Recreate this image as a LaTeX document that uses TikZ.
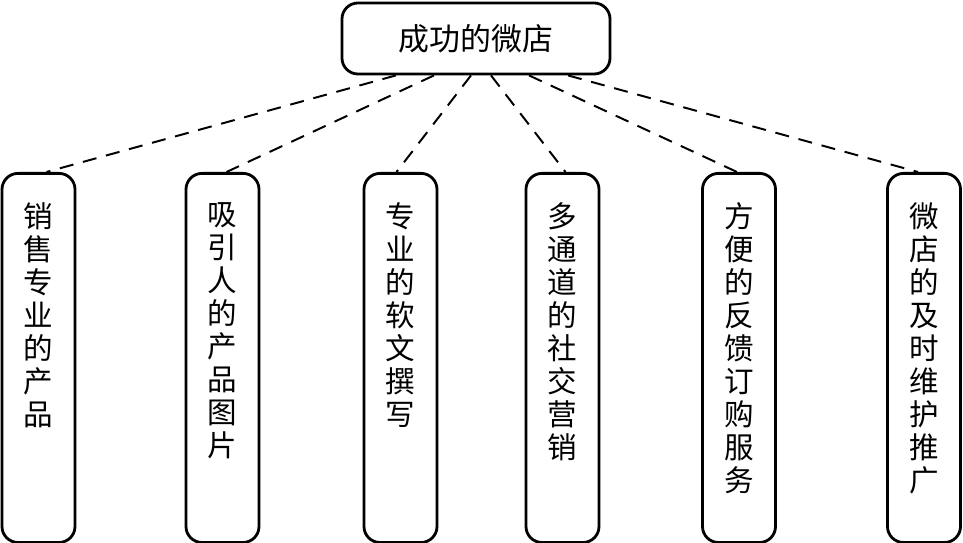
\documentclass[tikz,border=0pt]{standalone}
\usepackage{fontspec}
\newfontfamily\cjk{Noto Sans CJK SC}
\usetikzlibrary{positioning}
\begin{document}
\begin{tikzpicture}[x=0.025cm,y=-0.025cm,
  rootbox/.style={draw,line width=2pt,rounded corners=0.4cm,minimum width=6.7cm,minimum height=1.775cm,font=\cjk\fontsize{22pt}{26pt}\selectfont},
  leafbox/.style={draw,line width=2pt,rounded corners=0.4cm,minimum width=1.825cm,minimum height=9.225cm,anchor=north},
  leaftext/.style={inner sep=0pt,align=center,font=\cjk\fontsize{21pt}{0.825cm}\selectfont},
  link/.style={line width=1.4pt,dash pattern=on 10pt off 7pt}]
\useasboundingbox(0,0)rectangle(963,543);
\node[rootbox](root)at(476,38.5){成功的微店};
\node[leafbox](b1)at(38.5,172){};
\node[leafbox](b2)at(222.5,172){};
\node[leafbox](b3)at(400.5,172){};
\node[leafbox](b4)at(562.5,172){};
\node[leafbox](b5)at(739,172){};
\node[leafbox](b6)at(924,172){};
\node[leaftext,below=0.75cm of b1.north](t1){销\\售\\专\\业\\的\\产\\品};
\node[leaftext,below=0.75cm of b2.north](t2){吸\\引\\人\\的\\产\\品\\图\\片};
\node[leaftext,below=0.75cm of b3.north](t3){专\\业\\的\\软\\文\\撰\\写};
\node[leaftext,below=0.75cm of b4.north](t4){多\\通\\道\\的\\社\\交\\营\\销};
\node[leaftext,below=0.75cm of b5.north](t5){方\\便\\的\\反\\馈\\订\\购\\服\\务};
\node[leaftext,below=0.75cm of b6.north](t6){微\\店\\的\\及\\时\\维\\护\\推\\广};
\draw[link]([xshift=-2cm]root.south)--([xshift=0.2cm]b1.north);
\draw[link]([xshift=-1.05cm]root.south)--([xshift=0.1cm]b2.north);
\draw[link]([xshift=-0.125cm]root.south)--([xshift=-0.1cm]b3.north);
\draw[link]([xshift=0.375cm]root.south)--([xshift=0.075cm]b4.north);
\draw[link]([xshift=1.325cm]root.south)--([xshift=-0.05cm]b5.north);
\draw[link]([xshift=2.3cm]root.south)--([xshift=-0.15cm]b6.north);
\end{tikzpicture}
\end{document}
